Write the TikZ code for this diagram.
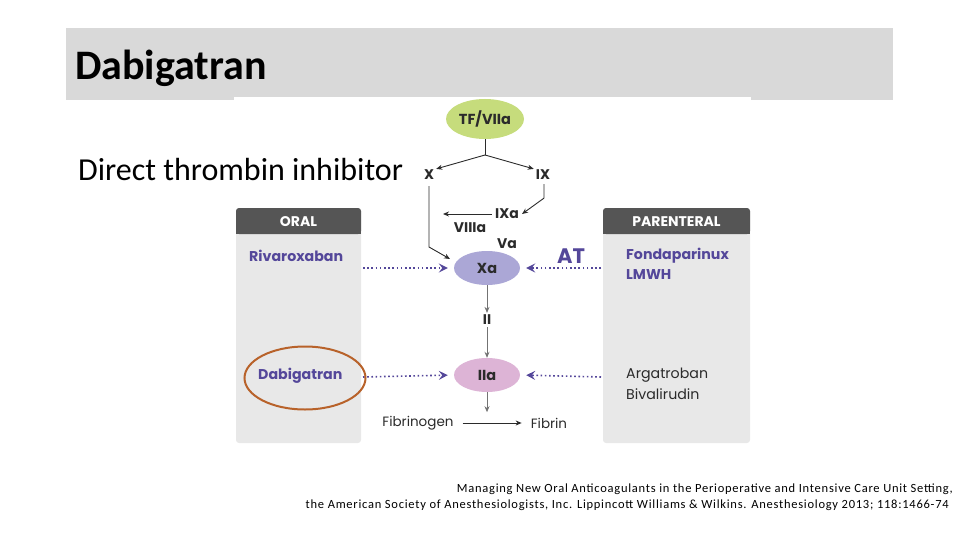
\documentclass[tikz,border=0pt]{standalone}
\usepackage{fontspec}
\setmainfont{Carlito}
\newfontfamily\dgfont{Poppins}
\newfontfamily\citefont[LetterSpace=6]{Carlito}
\usetikzlibrary{arrows.meta,shapes.geometric,calc}
\definecolor{titlegray}{HTML}{D9D9D9}
\definecolor{panelgray}{HTML}{E8E8E8}
\definecolor{headgray}{HTML}{555555}
\definecolor{drugpurple}{HTML}{54479A}
\definecolor{txtdark}{HTML}{2B2B2B}
\definecolor{tfgreen}{HTML}{C6DC7C}
\definecolor{xalav}{HTML}{ABA7D6}
\definecolor{iiapink}{HTML}{DDB4D6}
\definecolor{circorange}{HTML}{B8622A}
\tikzset{
  fac/.style={font=\dgfont\bfseries\fontsize{14}{16}\selectfont, text=txtdark, inner sep=0pt},
  blob/.style={ellipse, draw=none, minimum width=66pt, minimum height=34pt, font=\dgfont\bfseries\fontsize{14.5}{16}\selectfont, text=txtdark, inner sep=0pt},
  drug/.style={font=\dgfont\bfseries\fontsize{14.2}{16}\selectfont, text=drugpurple, inner sep=0pt, anchor=west},
  drugdark/.style={font=\dgfont\fontsize{14.2}{16}\selectfont, text=txtdark, inner sep=0pt, anchor=west},
  head/.style={font=\dgfont\bfseries\fontsize{14}{16}\selectfont, text=white, inner sep=0pt},
  arr/.style={draw=txtdark, line width=0.9pt, -{Stealth[length=6pt,width=5pt]}},
  garr/.style={draw=gray!90!black, line width=0.8pt, -{Stealth[length=6pt,width=5pt]}},
  darr/.style={draw=drugpurple, line width=1.6pt, dash pattern=on 1.6pt off 2.6pt, shorten >=6pt, -{Stealth[length=9pt,width=9pt,inset=3.5pt]}},
  plain/.style={font=\dgfont\fontsize{13.5}{16}\selectfont, text=txtdark, inner sep=0pt},
}
\begin{document}
\begin{tikzpicture}[x=1pt,y=-1pt]
\useasboundingbox (0,0) rectangle (960,540);
% title bar
\fill[titlegray] (66,28) rectangle (893,100);
\fill[white] (234,97) rectangle (751,100);
\node[anchor=base west, inner sep=0pt, font=\bfseries\fontsize{42}{44}\selectfont, text=black] (title) at (75,80) {Dabigatran};
\node[anchor=base west, inner sep=0pt, font=\fontsize{32}{34}\selectfont, text=black] (sub) at (78,181) {Direct thrombin inhibitor};
% panels
\fill[panelgray, rounded corners=3pt] (236,208) rectangle (361,443);
\fill[headgray, rounded corners=3pt] (236,208) rectangle (361,234);
\fill[headgray] (236,222) rectangle (361,234);
\node[head] (oral) at (298.5,222) {ORAL};
\fill[panelgray, rounded corners=3pt] (603,208) rectangle (750,443);
\fill[headgray, rounded corners=3pt] (603,208) rectangle (750,234);
\fill[headgray] (603,222) rectangle (750,234);
\node[head] (parent) at (676.5,222) {PARENTERAL};
% cascade nodes
\node[blob, fill=tfgreen, minimum width=78pt, minimum height=40pt] (tf) at (485,119) {TF/VIIa};
\coordinate (split) at (485,155);
\node[fac] (x) at (429,175) {X};
\node[fac] (ix) at (543,175) {IX};
\node[fac] (ixa) at (507,214) {IXa};
\coordinate (viiiend) at (443,214);
\node[fac] (viiia) at (470,228) {VIIIa};
\node[fac] (va) at (507,244) {Va};
\node[blob, fill=xalav] (xa) at (487,268) {Xa};
\node[fac] (ii) at (487,320) {II};
\node[blob, fill=iiapink] (iia) at (487,375) {IIa};
\node[plain] (fgen) at (418,423) {Fibrinogen};
\node[plain] (fib) at (549,423) {Fibrin};
% cascade connectors
\draw[txtdark, line width=0.9pt] (tf.south) -- (split);
\draw[arr] (split) -- ($(x.north east)+(2,-1)$);
\draw[arr] (split) -- ($(ix.north west)+(-2,-1)$);
\draw[arr] ($(ix.south)+(1,4)$) -- ++(0,14) -- ($(ixa.east)+(3,0)$);
\draw[arr] ($(ixa.west)+(-3,0)$) -- (viiiend);
\draw[arr] ($(x.south)+(0,6)$) -- (429,247) -- (450,259);
\draw[garr] (xa.south) -- ($(ii.north)+(0,-2)$);
\draw[garr] ($(ii.south)+(0,2)$) -- (iia.north);
\draw[garr] (iia.south) -- ($(iia.south)+(0,20)$);
\draw[arr] ($(fgen.east)+(9,0)$) -- ($(fib.west)+(-9,0)$);
% drugs
\node[drug] (riva) at (249,256) {Rivaroxaban};
\node[drug] (dabi) at (258,376) {Dabigatran};
\node[drug] (fonda) at (626,256) {Fondaparinux};
\node[drug] (lmwh) at (626,275) {LMWH};
\node[font=\dgfont\bfseries\fontsize{21}{22}\selectfont, text=drugpurple, inner sep=0pt] (at) at (571,256) {AT};
\node[drugdark] (arga) at (626,375) {Argatroban};
\node[drugdark] (biva) at (626,394) {Bivalirudin};
% inhibitor arrows
\draw[darr] (363,268) -- (xa.west);
\draw[darr] (363,377) -- (iia.west);
\draw[darr] (601,268) -- (xa.east);
\draw[darr] (601,377) -- (iia.east);
% highlight
\node[ellipse, draw=circorange, line width=2pt, minimum width=121pt, minimum height=63pt] (hl) at (305,378) {};
% citation
\node[anchor=base east, inner sep=0pt, font=\citefont\fontsize{12.5}{14}\selectfont, text=black] (cit1) at (953,492) {Managing New Oral Anticoagulants in the Perioperative and Intensive Care Unit Setting,};
\node[anchor=base east, inner sep=0pt, font=\citefont\fontsize{12.5}{14}\selectfont, text=black] (cit2) at (949,508) {the American Society of Anesthesiologists, Inc. Lippincott Williams \& Wilkins. Anesthesiology 2013; 118:1466-74};
\end{tikzpicture}
\end{document}
